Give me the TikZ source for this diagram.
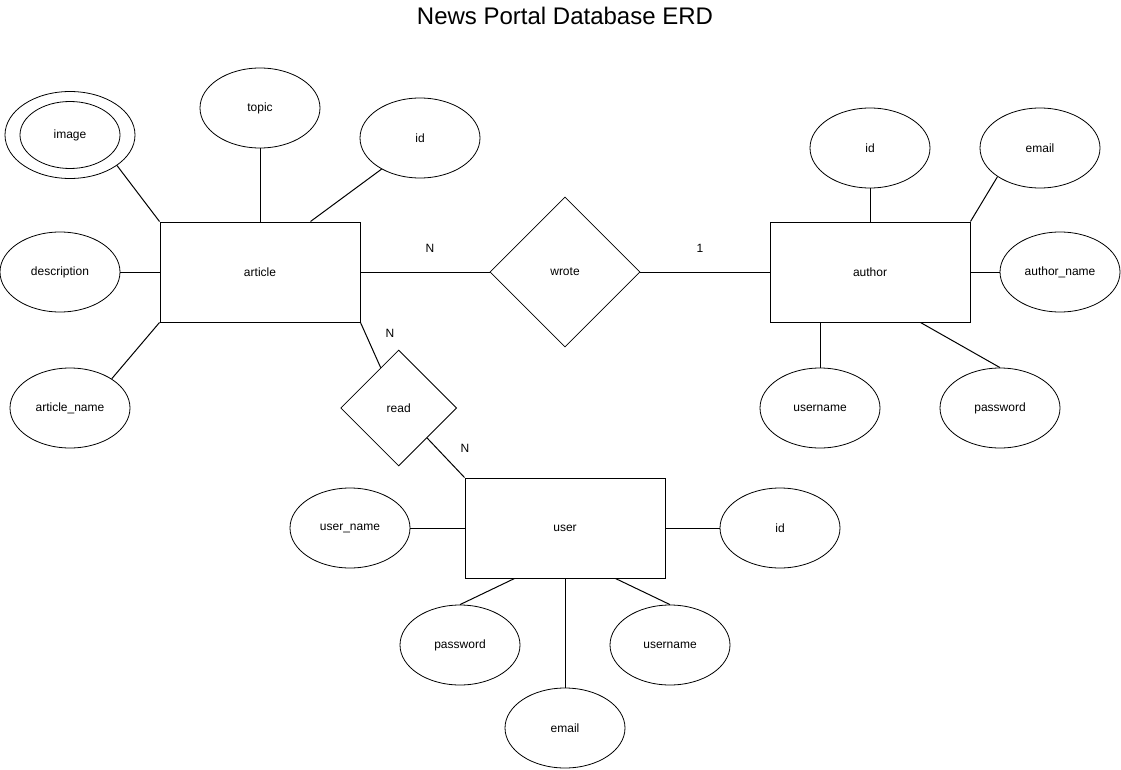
\documentclass[tikz,border=0pt]{standalone}
\usepackage{fontspec}
\setmainfont{Liberation Sans}
\usetikzlibrary{shapes.geometric}
\begin{document}
\begin{tikzpicture}[x=1pt, y=-1pt, font=\fontsize{12}{14}\selectfont, entity_style/.style={draw, rectangle, line width=1pt, minimum width=200pt, minimum height=100pt, inner sep=0pt},attr_style/.style={draw, ellipse, line width=0.8pt, minimum width=120pt, minimum height=80pt, inner sep=0pt},rel_style/.style={draw, diamond, aspect=1, line width=0.8pt, inner sep=0pt},label_style/.style={inner sep=0pt},edge_style/.style={draw=black, line width=1pt}]
      \useasboundingbox (0,0) rectangle (1121,770);
      \node[anchor=base, font=\fontsize{24}{28}\selectfont] (title) at (565,25) {News Portal Database ERD};
      \draw
        (260,272) node[entity_style] (art){article}
        (870,272) node[entity_style] (auth){author}
        (565,528) node[entity_style] (usr){user}
        (565,272) node[rel_style, minimum size=150pt] (wrote){wrote}
        (398.7,408) node[rel_style, minimum size=116pt] (read){read};
      % article attributes
      \draw
        (70,135) node[attr_style, minimum width=130pt, minimum height=87pt] (img){}
        (70,135) node[attr_style, minimum width=100pt, minimum height=67pt] (img_in){image}
        (260,108) node[attr_style] (topic){topic}
        (420,138) node[attr_style] (art_id){id}
        (60,272) node[attr_style] (desc){description}
        (70,408) node[attr_style] (art_name){article\_name};
      % author attributes
      \draw
        (870,148) node[attr_style] (auth_id){id}
        (1040,148) node[attr_style] (auth_email){email}
        (1060,272) node[attr_style] (auth_name){author\_name}
        (820,408) node[attr_style] (auth_uname){username}
        (1000,408) node[attr_style] (auth_pw){password};
      % user attributes
      \draw
        (350,528) node[attr_style] (usr_name){user\_name}
        (780,528) node[attr_style] (usr_id){id}
        (460,645) node[attr_style] (usr_pw){password}
        (565,728) node[attr_style] (usr_email){email}
        (670,645) node[attr_style] (usr_uname){username};
      % cardinalities
      \draw
        (430,248) node[label_style] (n_wrote){N}
        (700,248) node[label_style] (one_wrote){1}
        (390,333) node[label_style] (n_read){N}
        (465,448) node[label_style] (n_usr){N};
      \begin{scope}[-]
        \draw[edge_style] (img.-33) to (art.north west);
        \draw[edge_style] (topic) to (art);
        \draw[edge_style] (art_id.-141) to (art.45);
        \draw[edge_style] (desc) to (art);
        \draw[edge_style] (art_name.35) to (art.south west);
        \draw[edge_style] (art) to (wrote);
        \draw[edge_style] (wrote) to (auth);
        \draw[edge_style] (art.south east) to (read);
        \draw[edge_style] (read) to (usr.north west);
        \draw[edge_style] (auth_id) to (auth);
        \draw[edge_style] (auth_email.-146) to (auth.north east);
        \draw[edge_style] (auth_name) to (auth);
        \draw[edge_style] (auth_uname) to (auth_uname |- auth.south);
        \draw[edge_style] (auth_pw.north) to (auth.-45);
        \draw[edge_style] (usr_name) to (usr);
        \draw[edge_style] (usr) to (usr_id);
        \draw[edge_style] (usr_pw.north) to (usr.-135);
        \draw[edge_style] (usr) to (usr_email);
        \draw[edge_style] (usr_uname.north) to (usr.-45);
      \end{scope}
    \end{tikzpicture}
\end{document}
